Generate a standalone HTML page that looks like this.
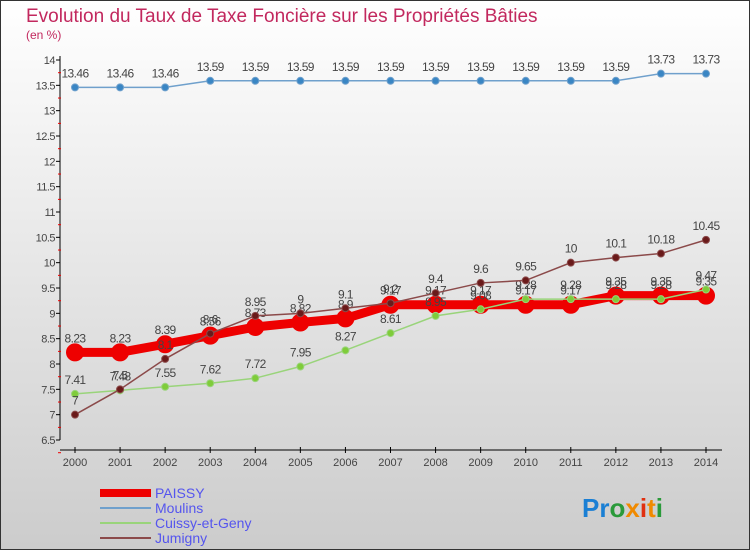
<!DOCTYPE html>
<html><head><meta charset="utf-8"><style>
body{margin:0;width:750px;height:550px;overflow:hidden;font-family:"Liberation Sans",sans-serif}
</style></head><body>
<svg id="chart" width="750" height="550" xmlns="http://www.w3.org/2000/svg">
<defs><linearGradient id="bg" x1="0" y1="0" x2="0" y2="1"><stop offset="0" stop-color="#ffffff"/><stop offset="1" stop-color="#cccccc"/></linearGradient></defs>
<rect x="0.5" y="0.5" width="749" height="549" fill="url(#bg)" stroke="#333"/>
<text x="26" y="22" font-size="19" fill="#c2285e">Evolution du Taux de Taxe Foncière sur les Propriétés Bâties</text>
<text x="26" y="39" font-size="12" fill="#c2285e">(en %)</text>
<g id="axes"></g><g id="series"></g>
<g>
<rect x="100" y="489" width="51" height="8" fill="#e00"/>
<text x="155" y="498" font-size="14" fill="#5555ee">PAISSY</text>
<line x1="100" y1="508" x2="151" y2="508" stroke="#6fa0cc" stroke-width="2"/>
<text x="155" y="513" font-size="14" fill="#5555ee">Moulins</text>
<line x1="100" y1="523" x2="151" y2="523" stroke="#99d47a" stroke-width="2"/>
<text x="155" y="528" font-size="14" fill="#5555ee">Cuissy-et-Geny</text>
<line x1="100" y1="538" x2="151" y2="538" stroke="#8b4a4a" stroke-width="2"/>
<text x="155" y="543" font-size="14" fill="#5555ee">Jumigny</text>
</g>
<text x="582" y="517" font-size="26" font-weight="bold"><tspan fill="#1a7fd4">Pr</tspan><tspan fill="#2a9a3a">o</tspan><tspan fill="#f08a00">x</tspan><tspan fill="#e03010">i</tspan><tspan fill="#f08a00">t</tspan><tspan fill="#2a9a3a">i</tspan></text>
</svg>
<script>
const years=[2000,2001,2002,2003,2004,2005,2006,2007,2008,2009,2010,2011,2012,2013,2014];
const yTicks=[6.5,7,7.5,8,8.5,9,9.5,10,10.5,11,11.5,12,12.5,13,13.5,14];
const paissy=[8.23,8.23,8.39,8.56,8.73,8.82,8.9,9.17,9.17,9.17,9.17,9.17,9.35,9.35,9.35];
const moulins=[13.46,13.46,13.46,13.59,13.59,13.59,13.59,13.59,13.59,13.59,13.59,13.59,13.59,13.73,13.73];
const cuissy=[7.41,7.48,7.55,7.62,7.72,7.95,8.27,8.61,8.95,9.08,9.28,9.28,9.28,9.28,9.47];
const jumigny=[7,7.5,8.1,8.6,8.95,9,9.1,9.2,9.4,9.6,9.65,10,10.1,10.18,10.45];
const NS="http://www.w3.org/2000/svg";
const xS=i=>75+i*(706-75)/14;
const yS=v=>60+(14-v)*(380/7.5);
function mk(tag,attrs,parent){const e=document.createElementNS(NS,tag);for(const k in attrs)e.setAttribute(k,attrs[k]);parent.appendChild(e);return e;}
const ax=document.getElementById('axes');
const yl=mk('line',{x1:60,y1:yS(14)-4,x2:60,y2:yS(6.5),stroke:'#000'},ax);


yTicks.forEach(t=>{
  mk('line',{x1:56,y1:yS(t),x2:60,y2:yS(t),stroke:'#000'},ax);
  mk('line',{x1:58,y1:yS(t)+12.7,x2:61,y2:yS(t)+12.7,stroke:'#e00'},ax);
  const tx=mk('text',{x:55,y:yS(t)+4,'font-size':11,fill:'#444','text-anchor':'end','letter-spacing':'-0.5'},ax);
  tx.textContent=String(t);
  
  
});
const xl=mk('line',{x1:60,y1:450,x2:722,y2:450,stroke:'#000'},ax);


years.forEach((y,i)=>{
  mk('line',{x1:xS(i),y1:447,x2:xS(i),y2:453,stroke:'#000'},ax);
  const tx=mk('text',{x:xS(i),y:466,'font-size':11,fill:'#444','text-anchor':'middle'},ax);
  tx.textContent=String(y);
  
  
});
const sg=document.getElementById('series');
function series(data,name,color,lw,r,fill){
  const g=mk('g',{},sg);
  
  
  const p=mk('polyline',{points:data.map((v,i)=>xS(i)+','+yS(v)).join(' '),fill:'none',stroke:color,'stroke-width':lw},g);
  
  
  data.forEach((v,i)=>{
    const c=mk('circle',{cx:xS(i),cy:yS(v),r:r,fill:fill,stroke:color,'stroke-width':1},g);
    
    
    const t=mk('text',{x:xS(i),y:yS(v)-10,'font-size':12,fill:'#444','text-anchor':'middle','letter-spacing':'-0.6'},g);
    t.textContent=String(v);
    
    
  });
}
series(moulins,'moulins','#6fa0cc',1.5,3.5,'#3a86c4');
series(paissy,'paissy','#ee0000',9,8.5,'#ee0000');
series(cuissy,'cuissy','#99d47a',1.5,3.5,'#7fcc3a');
series(jumigny,'jumigny','#8b4a4a',1.5,3.5,'#6a1a1a');
</script>
</body></html>
